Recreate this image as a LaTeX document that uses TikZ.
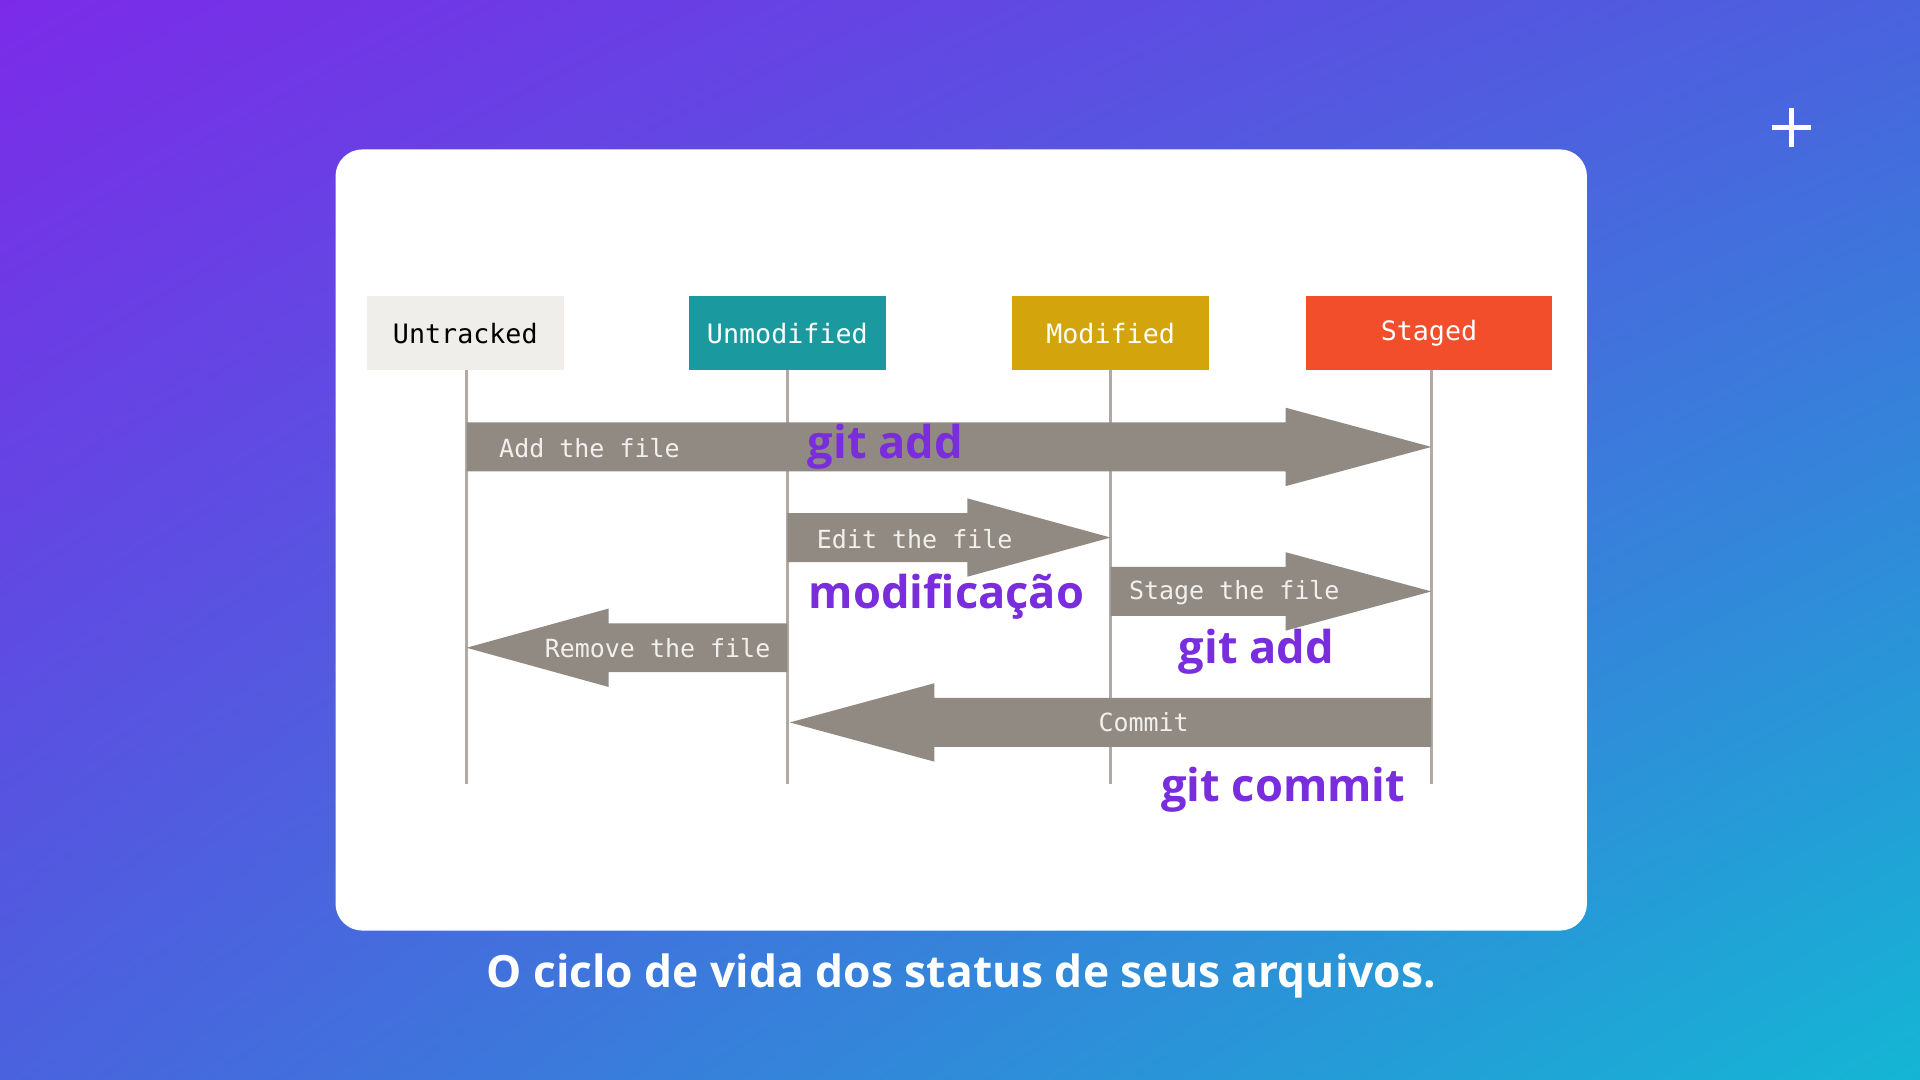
\documentclass[tikz,border=0pt]{standalone}
\usepackage{fontspec}
\setmainfont{Open Sans}
\setmonofont{DejaVu Sans Mono}
\usetikzlibrary{positioning,shadings}
\definecolor{fondoA}{HTML}{7B2BE8}
\definecolor{fondoB}{HTML}{14B6D4}
\definecolor{fondoC}{HTML}{4A62DE}
\definecolor{gris}{HTML}{918A82}
\definecolor{linea}{HTML}{B3A9A3}
\definecolor{textogris}{HTML}{F2F0EC}
\definecolor{morado}{HTML}{7A2DDC}
\definecolor{cUntr}{HTML}{EFEEEA}
\definecolor{cUnmod}{HTML}{1A9A9E}
\definecolor{cMod}{HTML}{D3A40C}
\definecolor{cStag}{HTML}{F24E2B}
\begin{document}
\begin{tikzpicture}[x=0.01cm,y=-0.01cm]
% estilos
\tikzstyle{estado} = [minimum height=0.61cm,inner sep=0pt,font=\ttfamily\fontsize{6.2}{7}\selectfont]
\tikzstyle{rotulo} = [font=\ttfamily\fontsize{5.8}{7}\selectfont,text=textogris,inner sep=0pt]
\tikzstyle{git} = [font=\bfseries\fontsize{10.5}{12}\selectfont,text=morado,inner sep=0pt]
% flecha gruesa
% #1: x inicio, #2: x punta, #3: y centro, #4: x base de la punta
\newcommand{\flecha}[4]{
\fill [gris] (#1,#3-20) -- (#4,#3-20) -- (#4,#3-32) -- (#2,#3)
  -- (#4,#3+32) -- (#4,#3+20) -- (#1,#3+20) -- cycle;
}
% fondo
\useasboundingbox (0,0) rectangle (1568,882);
\shade [upper left=fondoA,lower right=fondoB,upper right=fondoC,lower left=fondoC]
  (0,0) rectangle (1568,882);
\draw [white,line width=1.2pt] (1447,104) -- (1479,104) (1463,88) -- (1463,120);
\fill [white,rounded corners=0.22cm] (274,122) rectangle (1296,760);
% estados
\node [estado,fill=cUntr,text=black,minimum width=1.61cm] (untr) at (380,272) {Untracked};
\node [estado,fill=cUnmod,text=white,minimum width=1.61cm] (unmod) at (643,272) {Unmodified};
\node [estado,fill=cMod,text=white,minimum width=1.61cm] (mod) at (907,272) {Modified};
\node [estado,fill=cStag,text=white,minimum width=2.01cm] (stag) at (1167,272) {Staged};
% lineas de vida
\foreach \n/\x in {untr/381,unmod/643,mod/907,stag/1169}
  \draw [linea,thick] (\x,302) -- (\x,640);
% flechas
\flecha{381}{1169}{365}{1050}
\flecha{643}{907}{439}{790}
\flecha{907}{1169}{483}{1050}
\flecha{643}{381}{529}{497}
\flecha{1169}{645}{590}{763}
\node [rotulo,anchor=west] (add) at (407,366) {Add the file};
\node [rotulo] (edit) at (747,440) {Edit the file};
\node [rotulo] (stage) at (1008,484) {Stage the file};
\node [rotulo] (remove) at (537,529) {Remove the file};
\node [rotulo] (commit) at (934,590) {Commit};
% comandos
\node [git] (gadd) at (723,365) {git add};
\node [git] (gmod) at (773,487) {modificação};
\node [git] (gadd2) at (1026,532) {git add};
\node [git] (gcom) at (1048,645) {git commit};
\node [font=\bfseries\fontsize{10.3}{12}\selectfont,text=white] (pie) at (785,797)
  {O ciclo de vida dos status de seus arquivos.};
\end{tikzpicture}
\end{document}
